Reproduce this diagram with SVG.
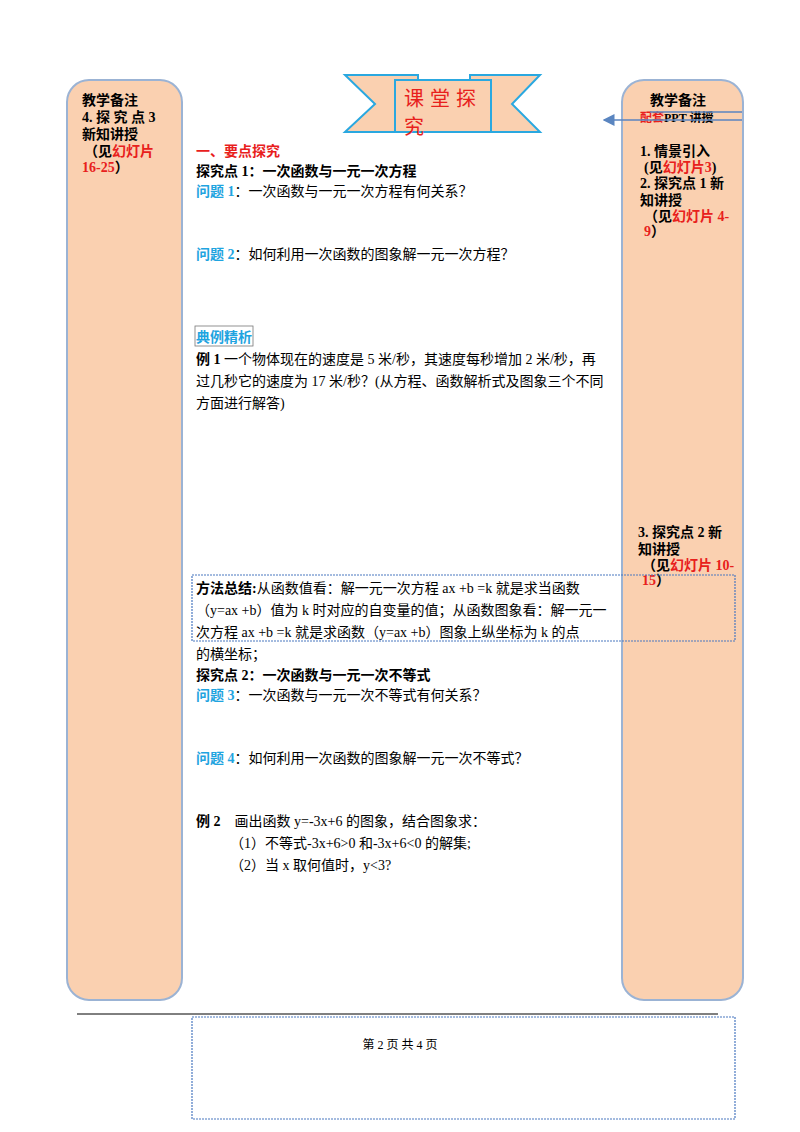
<svg xmlns="http://www.w3.org/2000/svg" width="800" height="1132" viewBox="0 0 800 1132">
<style>
text{font-family:"Liberation Serif","Noto Sans CJK SC",serif;font-size:14px;fill:#000}
.b{font-weight:bold}.r{fill:#e8201c}.c{fill:#1fa4e0}
.big{font-size:20px;font-family:"Noto Sans CJK SC",sans-serif}
.sm{font-size:12px}
.side{fill:#fad0b0;stroke:#9bb3d4;stroke-width:2}
.dash{fill:none;stroke:#4a78c0;stroke-width:1.2;stroke-dasharray:2 1}
</style>
<defs><marker id="ah" markerWidth="8" markerHeight="8" refX="7" refY="4" orient="auto"><path d="M0,0L8,4L0,8z" fill="#5a85c0"/></marker></defs>
<rect width="800" height="1132" fill="#fff"/>
<g id="left"><rect class="side" x="67" y="80" width="115" height="920" rx="22"/>
<text x="82" y="105" class="b">教学备注</text><text x="82" y="122" class="b">4. 探 究 点 3</text><text x="82" y="139" class="b">新知讲授</text><text x="84" y="156" class="b">（见<tspan class="r">幻灯片</tspan></text><text x="82" y="172" class="b"><tspan class="r">16-25</tspan>）</text></g>
<g id="right"><rect class="side" x="622" y="80" width="121" height="920" rx="22"/>
<text x="650" y="105" class="b">教学备注</text><text x="640" y="122" class="b sm"><tspan class="r">配套</tspan>PPT 讲授</text>
<text x="640" y="156" class="b">1. 情景引入</text><text x="644" y="172" class="b">(见<tspan class="r">幻灯片3</tspan>)</text>
<text x="640" y="188" class="b">2. 探究点 1 新</text><text x="640" y="205" class="b">知讲授</text><text x="644" y="221" class="b">（见<tspan class="r">幻灯片 4-</tspan></text><text x="644" y="236" class="b"><tspan class="r">9</tspan>）</text>
<text x="638" y="537" class="b">3. 探究点 2 新</text><text x="638" y="554" class="b">知讲授</text><text x="642" y="570" class="b">（见<tspan class="r">幻灯片 10-</tspan></text><text x="642" y="585" class="b"><tspan class="r">15</tspan>）</text></g>
<g id="banner">
<path d="M345,75 L418,75 L418,132 L345,132 L375,104 Z" fill="#fad0b0" stroke="#2aa8e0" stroke-width="2"/>
<path d="M540,75 L470,75 L470,132 L540,132 L512,104 Z" fill="#fad0b0" stroke="#2aa8e0" stroke-width="2"/>
<rect x="395" y="80" width="96" height="52" fill="#fad0b0" stroke="#2aa8e0" stroke-width="2"/>
<text x="404" y="106" class="r big" letter-spacing="6">课堂探</text><text x="404" y="134" class="r big">究</text></g>
<g id="connectors">
<line x1="650" y1="112" x2="742" y2="112" stroke="#5a85c0" stroke-width="1.5"/>
<line x1="742" y1="120" x2="604" y2="120" stroke="#5a85c0" stroke-width="1.5" marker-end="url(#ah)"/>
</g>
<g id="main">
<text x="196" y="156" class="r b">一、要点探究</text>
<text x="196" y="176" class="b">探究点 1：一次函数与一元一次方程</text>
<text x="196" y="196"><tspan class="c b">问题 1</tspan>：一次函数与一元一次方程有何关系？</text>
<text x="196" y="259"><tspan class="c b">问题 2</tspan>：如何利用一次函数的图象解一元一次方程？</text>
<rect x="195" y="326" width="58" height="20" fill="none" stroke="#777" stroke-width="0.8"/>
<text x="196" y="342" class="c b">典例精析</text>
<text x="196" y="364"><tspan class="b">例 1</tspan> 一个物体现在的速度是 5 米/秒，其速度每秒增加 2 米/秒，再</text>
<text x="196" y="386">过几秒它的速度为 17 米/秒？(从方程、函数解析式及图象三个不同</text>
<text x="196" y="408">方面进行解答)</text>
<rect class="dash" x="192" y="575" width="543" height="66"/>
<text x="196" y="593"><tspan class="b">方法总结:</tspan>从函数值看：解一元一次方程 ax +b =k 就是求当函数</text>
<text x="196" y="615">（y=ax +b）值为 k 时对应的自变量的值；从函数图象看：解一元一</text>
<text x="196" y="637">次方程 ax +b =k 就是求函数（y=ax +b）图象上纵坐标为 k 的点</text>
<text x="196" y="659">的横坐标；</text>
<text x="196" y="680" class="b">探究点 2：一次函数与一元一次不等式</text>
<text x="196" y="700"><tspan class="c b">问题 3</tspan>：一次函数与一元一次不等式有何关系？</text>
<text x="196" y="763"><tspan class="c b">问题 4</tspan>：如何利用一次函数的图象解一元一次不等式？</text>
<text x="196" y="826"><tspan class="b">例 2</tspan>　画出函数 y=-3x+6 的图象，结合图象求：</text>
<text x="230" y="848">（1）不等式-3x+6&gt;0 和-3x+6&lt;0 的解集;</text>
<text x="230" y="870">（2）当 x 取何值时，y&lt;3?</text>
</g>
<line x1="77" y1="1014" x2="718" y2="1014" stroke="#000" stroke-width="1"/>
<rect class="dash" x="192" y="1017" width="543" height="102"/>
<text x="400" y="1049" text-anchor="middle" class="sm">第 2 页 共 4 页</text>
</svg>
